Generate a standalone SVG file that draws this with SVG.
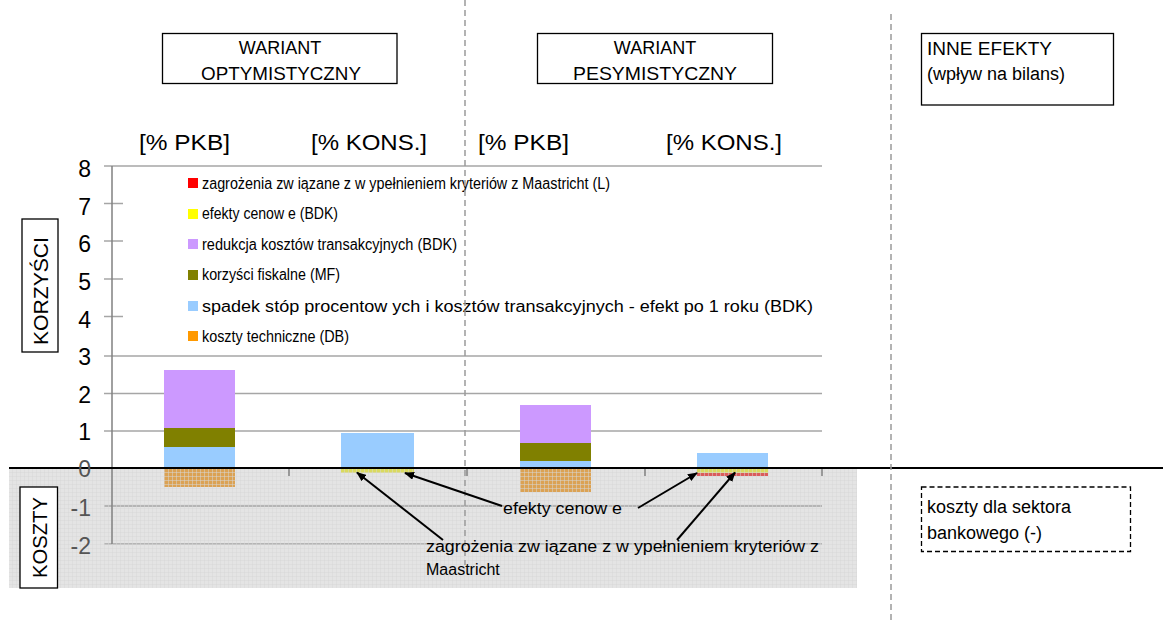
<svg xmlns="http://www.w3.org/2000/svg" width="1163" height="622" viewBox="0 0 1163 622">
<style>
text{font-family:"Liberation Sans",Arial,sans-serif;fill:#000}
.grid{stroke:#a6a6a6;stroke-width:1.5;fill:none}
.axis{stroke:#808080;stroke-width:1.5;fill:none}
.dash{stroke:#9a9a9a;stroke-width:1.5;stroke-dasharray:6 4;fill:none}
.box{fill:#fff;stroke:#000;stroke-width:1.3}
.dbox{fill:#fff;stroke:#000;stroke-width:1.3;stroke-dasharray:5 3}
.lg{font-size:16px}
.yl{font-size:23px;text-anchor:end}
.hd{font-size:22px}
.bx{font-size:18px}
.arr{stroke:#000;stroke-width:2;fill:none;marker-end:url(#ah)}
</style>
<defs>
<pattern id="hatch" width="4" height="4" patternUnits="userSpaceOnUse">
<rect width="4" height="4" fill="#a8a8a8" fill-opacity="0.3"/>
<path d="M0 0.5H4M0.5 0V4" stroke="#d8d8d8" stroke-opacity="0.5" stroke-width="1"/>
</pattern>
<marker id="ah" markerWidth="10" markerHeight="8" refX="9" refY="4" orient="auto" markerUnits="userSpaceOnUse">
<path d="M0,0 L10,4 L0,8 Z" fill="#000"/>
</marker>
</defs>
<rect width="1163" height="622" fill="#fff"/>

<g id="gridlines">
<path class="grid" d="M104 166H822M104 356H822M104 393.5H822M104 431H822M104 506H822M104 544H822"/>
<path class="grid" d="M104 203.5H123M104 241H123M104 279H123M104 316.5H123"/>
</g>

<g id="legend">
<rect x="123" y="170" width="699" height="180" fill="#fff"/>
<rect x="188" y="178" width="10" height="10" fill="#ff0000"/>
<text class="lg" x="202" y="188.5" textLength="408" lengthAdjust="spacingAndGlyphs">zagrożenia zw iązane z w ypełnieniem kryteriów z Maastricht (L)</text>
<rect x="188" y="209" width="10" height="10" fill="#ffff00"/>
<text class="lg" x="202" y="219" textLength="136" lengthAdjust="spacingAndGlyphs">efekty cenow e (BDK)</text>
<rect x="188" y="239" width="10" height="10" fill="#cc99ff"/>
<text class="lg" x="202" y="249.5" textLength="255" lengthAdjust="spacingAndGlyphs">redukcja kosztów transakcyjnych (BDK)</text>
<rect x="188" y="270" width="10" height="10" fill="#808000"/>
<text class="lg" x="202" y="280" textLength="138" lengthAdjust="spacingAndGlyphs">korzyści fiskalne (MF)</text>
<rect x="188" y="301" width="10" height="10" fill="#99ccff"/>
<text class="lg" x="202" y="311.5" textLength="611" lengthAdjust="spacingAndGlyphs">spadek stóp procentow ych i kosztów transakcyjnych - efekt po 1 roku (BDK)</text>
<rect x="188" y="331" width="10" height="10" fill="#ff9900"/>
<text class="lg" x="202" y="341.5" textLength="147" lengthAdjust="spacingAndGlyphs">koszty techniczne (DB)</text>
</g>

<g id="bars">
<g id="bar-opt-pkb">
<rect x="164" y="447" width="71" height="21" fill="#99ccff"/>
<rect x="164" y="428" width="71" height="19" fill="#808000"/>
<rect x="164" y="370" width="71" height="58" fill="#cc99ff"/>
<rect x="164" y="468" width="71" height="19" fill="#f2a030"/>
</g>
<g id="bar-opt-kons">
<rect x="341" y="433" width="73" height="35" fill="#99ccff"/>
<rect x="341" y="468" width="73" height="5" fill="#f0f040"/>
</g>
<g id="bar-pes-pkb">
<rect x="520" y="461" width="71" height="7" fill="#99ccff"/>
<rect x="520" y="443" width="71" height="18" fill="#808000"/>
<rect x="520" y="405" width="71" height="38" fill="#cc99ff"/>
<rect x="520" y="468" width="71" height="24" fill="#f2a030"/>
</g>
<g id="bar-pes-kons">
<rect x="697" y="453" width="71" height="15" fill="#99ccff"/>
<rect x="697" y="468" width="71" height="5" fill="#f0f040"/>
<rect x="697" y="473" width="71" height="3" fill="#f03c3c"/>
</g>
</g>

<rect id="cost-area" x="9" y="468" width="848" height="120" fill="url(#hatch)"/>

<g id="axes">
<path class="axis" d="M112 166V544"/>
<path class="axis" d="M289 468V476M467 468V476M645 468V476M822 468V476"/>
<path d="M9 468H1163" stroke="#000" stroke-width="2"/>
</g>

<g id="y-labels">
<text class="yl" x="91" y="177">8</text>
<text class="yl" x="91" y="214.5">7</text>
<text class="yl" x="91" y="252">6</text>
<text class="yl" x="91" y="290">5</text>
<text class="yl" x="91" y="327.5">4</text>
<text class="yl" x="91" y="365">3</text>
<text class="yl" x="91" y="402.5">2</text>
<text class="yl" x="91" y="440">1</text>
<text class="yl" x="91" y="477" style="fill:#555">0</text>
<text class="yl" x="91" y="515.5" style="fill:#555">-1</text>
<text class="yl" x="91" y="554" style="fill:#555">-2</text>
</g>

<g id="dividers">
<path class="dash" d="M465 0V565"/>
<path class="dash" d="M891 14V622"/>
</g>

<g id="column-headers">
<text class="hd" x="139" y="150" textLength="91" lengthAdjust="spacingAndGlyphs">[% PKB]</text>
<text class="hd" x="311" y="150" textLength="116" lengthAdjust="spacingAndGlyphs">[% KONS.]</text>
<text class="hd" x="478" y="150" textLength="91" lengthAdjust="spacingAndGlyphs">[% PKB]</text>
<text class="hd" x="666" y="150" textLength="116" lengthAdjust="spacingAndGlyphs">[% KONS.]</text>
</g>

<g id="node-optymistyczny">
<rect class="box" x="162.5" y="33.5" width="234.5" height="50"/>
<text class="bx" x="280" y="54" text-anchor="middle">WARIANT</text>
<text class="bx" x="281" y="80" text-anchor="middle" textLength="160" lengthAdjust="spacingAndGlyphs">OPTYMISTYCZNY</text>
</g>
<g id="node-pesymistyczny">
<rect class="box" x="537.5" y="33.5" width="235" height="50"/>
<text class="bx" x="655" y="54" text-anchor="middle">WARIANT</text>
<text class="bx" x="655" y="80" text-anchor="middle" textLength="164" lengthAdjust="spacingAndGlyphs">PESYMISTYCZNY</text>
</g>
<g id="node-inne">
<rect class="box" x="921.5" y="33.5" width="192" height="71.5"/>
<text class="bx" x="927" y="55" textLength="125" lengthAdjust="spacingAndGlyphs">INNE EFEKTY</text>
<text class="bx" x="927" y="79.5">(wpływ na bilans)</text>
</g>
<g id="node-korzysci">
<rect class="box" x="22" y="219" width="36" height="133"/>
<text class="bx" transform="translate(47.5 291) rotate(-90)" text-anchor="middle" style="font-size:20px" textLength="108" lengthAdjust="spacingAndGlyphs">KORZYŚCI</text>
</g>
<g id="node-koszty">
<rect class="box" x="20" y="487" width="37.5" height="101"/>
<text class="bx" transform="translate(46.5 537.5) rotate(-90)" text-anchor="middle" style="font-size:20px" textLength="81" lengthAdjust="spacingAndGlyphs">KOSZTY</text>
</g>
<g id="node-bank">
<rect class="dbox" x="921.5" y="487" width="209" height="64.5"/>
<text class="bx" x="927" y="513">koszty dla sektora</text>
<text class="bx" x="927" y="539">bankowego (-)</text>
</g>

<g id="connectors">
<path class="arr" d="M443 540L357 472.5"/>
<path class="arr" d="M502 506L405 473"/>
<path class="arr" d="M638 508L697 473"/>
<path class="arr" d="M677 540L735 472.5"/>
</g>

<g id="annotations">
<text class="bx" x="503" y="514" style="font-size:16px" textLength="119" lengthAdjust="spacingAndGlyphs">efekty cenow e</text>
<text class="bx" x="426" y="552" style="font-size:16px" textLength="393" lengthAdjust="spacingAndGlyphs">zagrożenia zw iązane z w ypełnieniem kryteriów z</text>
<text class="bx" x="426" y="575" style="font-size:16px">Maastricht</text>
</g>
</svg>
